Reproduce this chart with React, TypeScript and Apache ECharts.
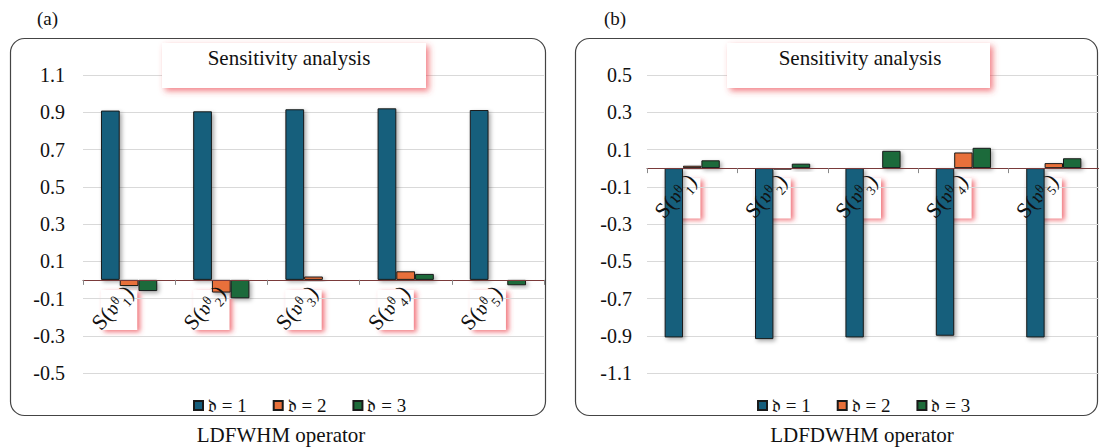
import React, { useEffect, useRef } from "react";
import * as echarts from "echarts";

const categories = ["S(𝔳ᶿ₁)", "S(𝔳ᶿ₂)", "S(𝔳ᶿ₃)", "S(𝔳ᶿ₄)", "S(𝔳ᶿ₅)"];
const seriesNames = ["𝔡 = 1", "𝔡 = 2", "𝔡 = 3"];
const ldfwhm1 = [0.909, 0.905, 0.916, 0.921, 0.912];
const ldfwhm2 = [-0.033, -0.068, 0.018, 0.046, -0.006];
const ldfwhm3 = [-0.06, -0.099, 0.002, 0.032, -0.029];
const ldfdwhm1 = [-0.909, -0.918, -0.909, -0.9, -0.909];
const ldfdwhm2 = [0.013, -0.008, 0.004, 0.084, 0.027];
const ldfdwhm3 = [0.042, 0.024, 0.093, 0.109, 0.053];
const leftAxis = { min: -0.5, max: 1.1, interval: 0.2 };
const rightAxis = { min: -1.1, max: 0.5, interval: 0.2 };
const panelTitles = ["(a)", "(b)"];
const captions = ["LDFWHM operator", "LDFDWHM operator"];
const boxTitle = "Sensitivity analysis";

const colors = ["#165E7C", "#E8703A", "#1D6B3A"];
const FONT = "Liberation Serif, DejaVu Serif, DejaVu Sans, serif";

export default function App() {
  const ref = useRef<HTMLDivElement>(null);
  useEffect(() => {
    document.body.style.margin = "0";
    const chart = echarts.init(ref.current!, null, { renderer: "svg" });
    const grids = [
      { left: 83, top: 75, width: 461, height: 298 },
      { left: 647, top: 75, width: 460, height: 298 },
    ];
    const gridBottom = 75 + 298;
    const yAxes = [leftAxis, rightAxis].map((a, i) => ({
      type: "value",
      gridIndex: i,
      min: a.min,
      max: a.max,
      interval: a.interval,
      axisLine: { show: false },
      axisTick: { show: false },
      axisLabel: {
        fontFamily: FONT,
        fontSize: 20,
        color: "#111",
        margin: i === 0 ? 18 : 15,
        formatter: (v: number) => v.toFixed(1),
      },
      splitLine: { lineStyle: { color: "#d9d9d9", width: 1 } },
    }));
    const makeX = (offsets: number[]) =>
      [0, 1].map((i) => ({
        type: "category",
        gridIndex: i,
        data: categories,
        offset: offsets[i],
        z: 5,
        axisLine: { onZero: false, lineStyle: { color: "#7a3a3a", width: 1 } },
        axisTick: { show: true, length: 5, lineStyle: { color: "#888" } },
        axisLabel: {
          interval: 0,
          rotate: 48,
          fontFamily: FONT,
          fontSize: 22,
          color: "#111",
          margin: 9,
        },
      }));
    const data = [
      [ldfwhm1, ldfwhm2, ldfwhm3],
      [ldfdwhm1, ldfdwhm2, ldfdwhm3],
    ];
    const series: any[] = [];
    data.forEach((group, gi) => {
      group.forEach((vals, si) => {
        series.push({
          type: "bar",
          name: seriesNames[si],
          xAxisIndex: gi,
          yAxisIndex: gi,
          data: vals,
          barGap: "0%",
          barCategoryGap: "39%",
          itemStyle: {
            color: colors[si],
            borderColor: "#1a1a1a",
            borderWidth: 1,
            shadowBlur: 4,
            shadowColor: "rgba(0,0,0,0.35)",
            shadowOffsetX: 2,
            shadowOffsetY: 2,
          },
        });
      });
    });
    const legendBase = {
      icon: "rect",
      itemWidth: 9,
      itemHeight: 9,
      itemGap: 26,
      itemTextGap: 4,
      top: 391,
      textStyle: { fontFamily: FONT, fontSize: 19, color: "#111" },
      data: seriesNames,
    };
    const textStyle = (text: string, size: number, align: string) => ({
      text,
      fontFamily: FONT,
      fontSize: size,
      fill: "#111",
      textAlign: align,
      textVerticalAlign: "middle",
    });
    const titleBoxStyle = {
      fill: "#fff",
      shadowBlur: 6,
      shadowColor: "rgba(235,60,70,0.65)",
      shadowOffsetX: 3,
      shadowOffsetY: 3,
    };
    const staticGraphics: any[] = [
      {
        type: "rect",
        z: -2,
        shape: { x: 10.5, y: 38.5, width: 535, height: 377, r: 14 },
        style: { fill: "none", stroke: "#444", lineWidth: 1.2 },
      },
      {
        type: "rect",
        z: -2,
        shape: { x: 575.5, y: 38.5, width: 522, height: 377, r: 14 },
        style: { fill: "none", stroke: "#444", lineWidth: 1.2 },
      },
      { type: "rect", z: 10, shape: { x: 162, y: 43, width: 264, height: 45 }, style: titleBoxStyle },
      { type: "rect", z: 10, shape: { x: 727, y: 43, width: 263, height: 45 }, style: titleBoxStyle },
      { type: "text", z: 11, x: 289, y: 58, style: textStyle(boxTitle, 21, "center") },
      { type: "text", z: 11, x: 860, y: 58, style: textStyle(boxTitle, 21, "center") },
      { type: "text", x: 37, y: 18, style: textStyle(panelTitles[0], 19, "left") },
      { type: "text", x: 604, y: 18, style: textStyle(panelTitles[1], 19, "left") },
      { type: "text", x: 281, y: 435, style: textStyle(captions[0], 21, "center") },
      { type: "text", x: 862, y: 435, style: textStyle(captions[1], 21, "center") },
    ];
    chart.setOption({
      animation: false,
      backgroundColor: "#fff",
      grid: grids,
      xAxis: makeX([0, 0]),
      yAxis: yAxes,
      series,
      legend: [
        { ...legendBase, left: 188 },
        { ...legendBase, left: 752 },
      ],
      graphic: staticGraphics,
    });
    const zeros = [0, 1].map((gi) => chart.convertToPixel({ yAxisIndex: gi }, 0) as number);
    chart.setOption({ xAxis: makeX(zeros.map((z) => z - gridBottom)) });
    const boxes: any[] = [];
    [0, 1].forEach((gi) => {
      categories.forEach((_, ci) => {
        const p = chart.convertToPixel({ xAxisIndex: gi, yAxisIndex: gi }, [ci, 0]) as number[];
        boxes.push({
          type: "rect",
          z: -1,
          shape: { x: p[0] - 28, y: p[1] + 10, width: 36, height: 40 },
          style: {
            fill: "#fff",
            shadowBlur: 5,
            shadowColor: "rgba(235,60,70,0.7)",
            shadowOffsetX: 3,
            shadowOffsetY: 2,
          },
        });
      });
    });
    chart.setOption({ graphic: [...staticGraphics, ...boxes] });
    return () => chart.dispose();
  }, []);
  return <div ref={ref} style={{ position: "absolute", left: 0, top: 0, width: 1099, height: 448 }} />;
}
